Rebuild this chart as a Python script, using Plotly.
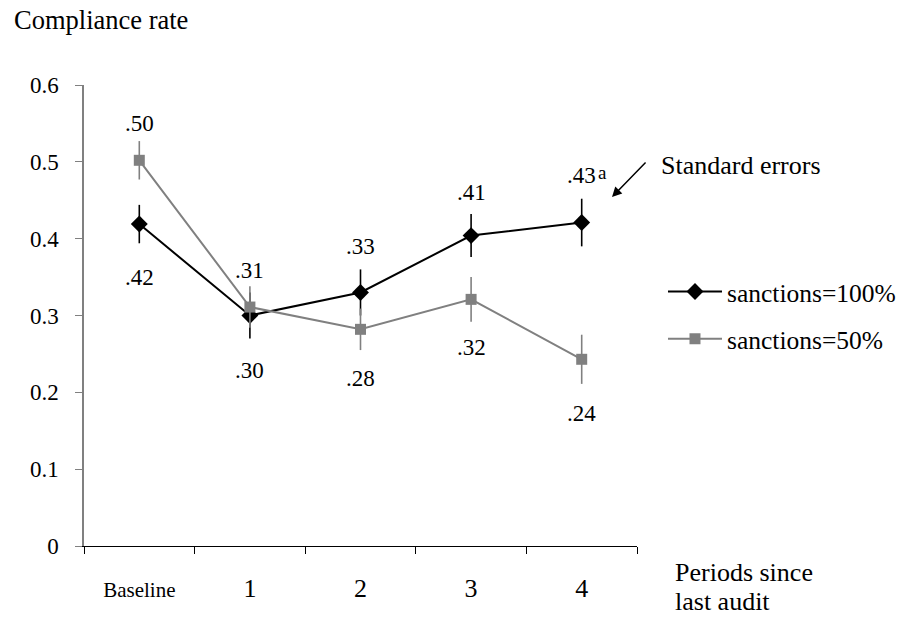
import plotly.graph_objects as go

categories = ["Baseline", "1", "2", "3", "4"]
tick_text = ["<span style='font-size:21px'>Baseline</span>", "1", "2", "3", "4"]

full_name = "sanctions=100%"
full_values = [0.419, 0.300, 0.330, 0.404, 0.421]
full_se = [0.025, 0.030, 0.030, 0.028, 0.031]
full_labels = [".42", ".30", ".33", ".41", ".43"]
full_label_shift = [-53, -55, 46, 43, 47]

half_name = "sanctions=50%"
half_values = [0.502, 0.311, 0.282, 0.321, 0.243]
half_se = [0.025, 0.027, 0.027, 0.029, 0.032]
half_labels = [".50", ".31", ".28", ".32", ".24"]
half_label_shift = [37, 37, -49, -48, -54]

FONT = "Liberation Serif, Times New Roman, Tinos, DejaVu Serif, serif"
BLACK = "#000000"
GRAY = "#808080"

L, R, T, B = 84, 637, 85, 546
def px(xp): return (xp - L) / (R - L)
def py(yp): return (B - yp) / (B - T)

fig = go.Figure()
fig.add_trace(go.Scatter(
    x=categories, y=full_values, name=full_name, mode="lines+markers",
    line=dict(color=BLACK, width=2),
    marker=dict(symbol="diamond", size=13, color=BLACK),
    error_y=dict(type="data", array=full_se, visible=True, color=BLACK, thickness=1.6, width=0),
    legendgroup="a",
))
fig.add_trace(go.Scatter(
    x=categories, y=half_values, name=half_name, mode="lines+markers",
    line=dict(color=GRAY, width=2),
    marker=dict(symbol="square", size=11, color=GRAY),
    error_y=dict(type="data", array=half_se, visible=True, color=GRAY, thickness=1.6, width=0),
    legendgroup="b",
))

for vals, labs, shifts in [(full_values, full_labels, full_label_shift),
                           (half_values, half_labels, half_label_shift)]:
    for c, v, t, s in zip(categories, vals, labs, shifts):
        fig.add_annotation(x=c, y=v, text=t, showarrow=False, yshift=s,
                           font=dict(family=FONT, size=23, color=BLACK))

# superscript "a"
fig.add_annotation(x=px(609), y=py(160), xref="paper", yref="paper", text="a",
                   showarrow=False, font=dict(family=FONT, size=19, color=BLACK))
# arrow
fig.add_annotation(x=px(612), y=py(197), xref="paper", yref="paper", text="",
                   showarrow=True, arrowhead=2, arrowsize=1.3, arrowwidth=1.5,
                   arrowcolor=BLACK, ax=35, ay=-36)
fig.add_annotation(x=px(659), y=py(165), xref="paper", yref="paper", text="Standard errors",
                   showarrow=False, xanchor="left", yanchor="middle",
                   font=dict(family=FONT, size=26, color=BLACK))
fig.add_annotation(x=px(12), y=py(20), xref="paper", yref="paper", text="Compliance rate",
                   showarrow=False, xanchor="left", yanchor="middle",
                   font=dict(family=FONT, size=26.5, color=BLACK))
fig.add_annotation(x=px(673), y=py(572), xref="paper", yref="paper", text="Periods since",
                   showarrow=False, xanchor="left", yanchor="middle",
                   font=dict(family=FONT, size=26, color=BLACK))
fig.add_annotation(x=px(673), y=py(601), xref="paper", yref="paper", text="last audit",
                   showarrow=False, xanchor="left", yanchor="middle",
                   font=dict(family=FONT, size=26, color=BLACK))

fig.update_layout(
    width=912, height=619,
    margin=dict(l=L, r=912 - R, t=T, b=619 - B, autoexpand=False),
    paper_bgcolor="white", plot_bgcolor="white",
    font=dict(family=FONT, size=23, color=BLACK),
    showlegend=True,
    legend=dict(x=1.047, y=0.602, xanchor="left", yanchor="top",
                font=dict(family=FONT, size=25.5, color=BLACK),
                itemwidth=54,
                tracegroupgap=11, bgcolor="rgba(0,0,0,0)"),
    xaxis=dict(type="category", categoryorder="array", categoryarray=categories,
               range=[-0.5, 4.5],
               tickmode="array", tickvals=categories, ticktext=tick_text,
               tickson="boundaries", ticks="outside", ticklen=7, tickcolor=BLACK,
               showline=True, linecolor=BLACK, linewidth=1.3, showgrid=False,
               zeroline=False, tickfont=dict(family=FONT, size=26, color=BLACK),
               ticklabelstandoff=19),
    yaxis=dict(range=[0, 0.6], tickvals=[0, 0.1, 0.2, 0.3, 0.4, 0.5, 0.6],
               ticktext=["0", "0.1", "0.2", "0.3", "0.4", "0.5", "0.6"],
               ticks="outside", ticklen=7, tickcolor=GRAY,
               showline=True, linecolor=GRAY, linewidth=1.5, showgrid=False,
               zeroline=False, tickfont=dict(family=FONT, size=23, color=BLACK),
               ticklabelstandoff=12),
)

fig.write_html("out.html", config={"displayModeBar": False},
               post_script="document.body.style.margin='0';document.body.style.padding='0';")
